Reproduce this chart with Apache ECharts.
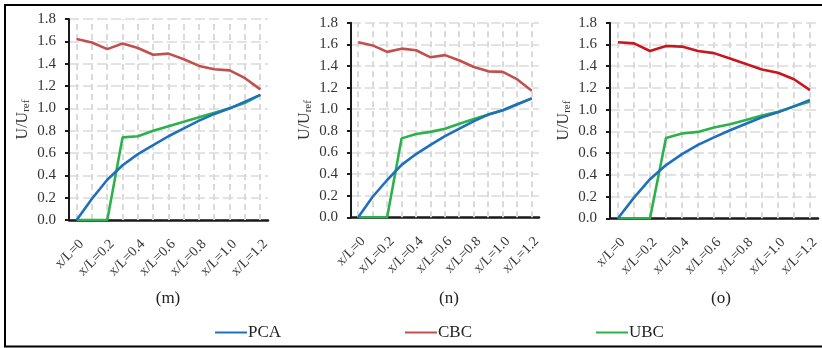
<!DOCTYPE html>
<html>
<head>
<meta charset="utf-8">
<script src="https://cdn.jsdelivr.net/npm/echarts@6/dist/echarts.min.js"></script>
<style>
  html, body { margin: 0; padding: 0; background: #fff; }
  #chart { width: 822px; height: 348px; }
</style>
</head>
<body>
<div id="chart"></div>
<script>
// Stations along the model length (x/L), every 0.1; labels shown every 0.2
const xLabels = ['x/L=0', 'x/L=0.1', 'x/L=0.2', 'x/L=0.3', 'x/L=0.4', 'x/L=0.5', 'x/L=0.6',
                 'x/L=0.7', 'x/L=0.8', 'x/L=0.9', 'x/L=1.0', 'x/L=1.1', 'x/L=1.2'];

// Panel (m)
const pcaM = [0, 0.19, 0.36, 0.49, 0.59, 0.67, 0.75, 0.82, 0.89, 0.95, 1.00, 1.06, 1.12];
const cbcM = [1.62, 1.59, 1.53, 1.58, 1.54, 1.48, 1.49, 1.44, 1.38, 1.35, 1.34, 1.27, 1.17];
const ubcM = [0, 0, 0, 0.74, 0.75, 0.80, 0.84, 0.88, 0.92, 0.96, 1.00, 1.05, 1.12];

// Panel (n)
const pcaN = [0, 0.19, 0.345, 0.485, 0.585, 0.67, 0.75, 0.82, 0.89, 0.95, 0.99, 1.045, 1.10];
const cbcN = [1.62, 1.59, 1.53, 1.56, 1.545, 1.48, 1.50, 1.45, 1.39, 1.35, 1.345, 1.275, 1.17];
const ubcN = [0, 0, 0, 0.73, 0.77, 0.79, 0.82, 0.865, 0.91, 0.95, 0.99, 1.045, 1.10];

// Panel (o)
const pcaO = [0, 0.19, 0.36, 0.49, 0.59, 0.675, 0.745, 0.81, 0.87, 0.93, 0.975, 1.03, 1.09];
const cbcO = [1.62, 1.61, 1.54, 1.585, 1.58, 1.54, 1.52, 1.47, 1.42, 1.37, 1.34, 1.28, 1.18];
const ubcO = [0, 0, 0, 0.74, 0.78, 0.795, 0.835, 0.865, 0.905, 0.945, 0.98, 1.03, 1.075];

const panelNames = ['(m)', '(n)', '(o)'];
const seriesNames = ['PCA', 'CBC', 'UBC'];

const Y_MAX = 1.8;
const FONT = '"Liberation Serif", "DejaVu Serif", serif';
const BLUE = '#1f6fbf';
const RED = '#c0504d';
const RED_DARK = '#c8161e';
const GREEN = '#2bb24a';
const GUIDE = '#dadada';

const panels = [
  { grid: { left: 69, top: 19, width: 199, height: 201 }, title: 163, data: [pcaM, cbcM, ubcM], colors: [BLUE, RED, GREEN] },
  { grid: { left: 351, top: 22.7, width: 188, height: 194.6 }, title: 444, data: [pcaN, cbcN, ubcN], colors: [BLUE, RED, GREEN] },
  { grid: { left: 610, top: 22.7, width: 208, height: 195.6 }, title: 716, data: [pcaO, cbcO, ubcO], colors: [BLUE, RED_DARK, GREEN] }
];

const gridDash = { color: GUIDE, width: 1.6, type: [10, 4] };

const option = {
  animation: false,
  backgroundColor: '#fff',
  textStyle: { fontFamily: FONT },
  grid: panels.map(p => Object.assign({ containLabel: false }, p.grid)),
  title: panels.map((p, i) => ({
    text: panelNames[i],
    left: p.title,
    top: 285,
    textAlign: 'center',
    textStyle: { fontFamily: FONT, fontSize: 17, fontWeight: 'normal', color: '#222' }
  })),
  legend: seriesNames.map((n, i) => ({
    data: [n],
    left: [210, 400, 591][i],
    top: 319,
    icon: 'rect',
    itemWidth: 32,
    itemHeight: 2,
    itemGap: 0,
    textStyle: { fontFamily: FONT, fontSize: 17, color: '#222', padding: [0, 0, 0, -4] }
  })),
  xAxis: panels.map((p, i) => ({
    type: 'category',
    gridIndex: i,
    data: xLabels,
    boundaryGap: true,
    axisLine: { show: true, lineStyle: { color: '#1a1a1a', width: 2.5 } },
    axisTick: { show: false },
    axisLabel: {
      interval: 1,
      rotate: 45,
      margin: 17,
      verticalAlign: 'top',
      fontFamily: FONT,
      fontSize: 14,
      color: '#333'
    },
    splitLine: { show: false }
  })),
  yAxis: panels.map((p, i) => ({
    type: 'value',
    gridIndex: i,
    min: 0,
    max: Y_MAX,
    interval: 0.2,
    name: '{a|U/U}{s|ref}',
    nameLocation: 'middle',
    nameGap: 37,
    nameTextStyle: {
      rich: {
        a: { fontFamily: FONT, fontSize: 16, color: '#333' },
        s: { fontFamily: FONT, fontSize: 11, color: '#333', verticalAlign: 'bottom', padding: [7, 0, 0, 0] }
      }
    },
    axisLine: { show: true, lineStyle: { color: '#1a1a1a', width: 2 } },
    axisTick: { show: true, length: 4, lineStyle: { color: '#1a1a1a', width: 2 } },
    axisLabel: {
      margin: 13,
      fontFamily: FONT,
      fontSize: 15,
      color: '#333',
      formatter: v => v.toFixed(1)
    },
    splitLine: { show: true, lineStyle: gridDash }
  })),
  series: []
};

// dashed vertical guide at every station, from the x-axis up to the top value
function stationGuides(params, api) {
  const idx = api.value(0);
  const top = api.value(1);
  const p0 = api.coord([idx, 0]);
  const p1 = api.coord([idx, top]);
  const x = Math.round(p0[0]);
  return {
    type: 'line',
    shape: { x1: x, y1: p0[1], x2: x, y2: p1[1] },
    style: { stroke: GUIDE, lineWidth: 2, lineDash: [6, 4], fill: null },
    z2: 0
  };
}

panels.forEach((p, i) => {
  option.series.push({
    type: 'custom',
    name: 'guides' + i,
    xAxisIndex: i,
    yAxisIndex: i,
    coordinateSystem: 'cartesian2d',
    data: xLabels.map((c, k) => [k, Y_MAX]),
    encode: { x: 0, y: 1 },
    renderItem: stationGuides,
    z: 1,
    silent: true,
    clip: false
  });
  p.data.forEach((arr, k) => {
    option.series.push({
      type: 'line',
      name: seriesNames[k],
      xAxisIndex: i,
      yAxisIndex: i,
      data: arr,
      symbol: 'none',
      color: p.colors[k],
      lineStyle: { color: p.colors[k], width: 2.6 },
      z: k === 0 ? 4 : 3
    });
  });
});

option.graphic = [{
  type: 'rect',
  shape: { x: 5, y: 5, width: 830, height: 341.5 },
  style: { fill: null, stroke: '#000', lineWidth: 2 },
  silent: true
}];

const chart = echarts.init(document.getElementById('chart'), null, { renderer: 'canvas' });
chart.setOption(option);
</script>
</body>
</html>
